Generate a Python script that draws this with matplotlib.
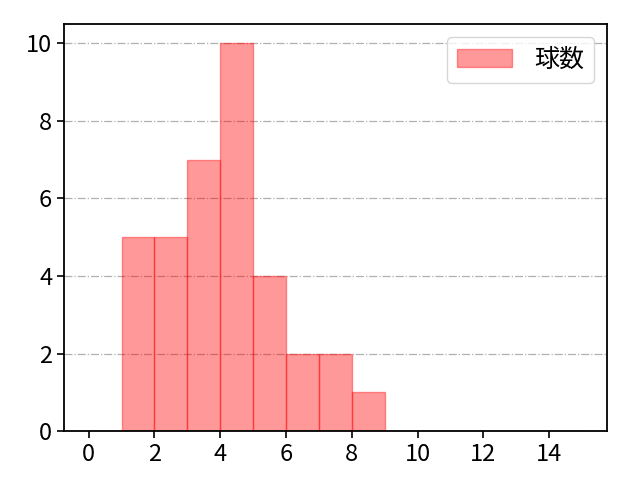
import numpy as np
import matplotlib
matplotlib.use("Agg")
import matplotlib.pyplot as plt

plt.rcParams['font.family'] = ['Noto Sans CJK JP', 'DejaVu Sans']

# histogram bins (edges) and counts
bin_edges = list(range(0, 16))
counts = [0, 5, 5, 7, 10, 4, 2, 2, 1, 0, 0, 0, 0, 0, 0]
label = "球数"

fig, ax = plt.subplots(figsize=(6.4, 4.8), dpi=100)
ax.hist(bin_edges[:-1], bins=bin_edges, weights=counts,
        color="red", alpha=0.4, edgecolor="red", label=label)
ax.grid(axis="y", linestyle="-.", color="#b0b0b0", linewidth=0.9)
ax.set_axisbelow(True)
ax.set_xticks(range(0, 15, 2))
ax.tick_params(labelsize=17, width=1.2, length=5)
for s in ax.spines.values():
    s.set_linewidth(1.3)
ax.legend(loc="upper right", fontsize=18, handlelength=2.2, handletextpad=0.9)
fig.subplots_adjust(left=0.1, right=0.948, top=0.95, bottom=0.102)
fig.savefig("out.png")
